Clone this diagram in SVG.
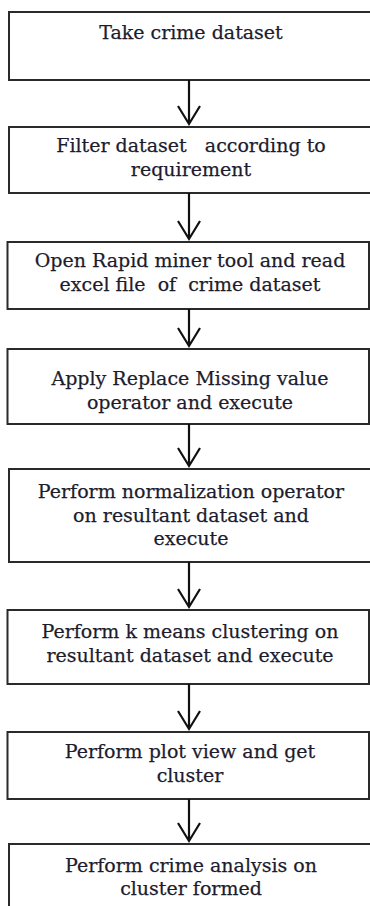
<svg xmlns="http://www.w3.org/2000/svg" width="370" height="906" viewBox="0 0 370 906">
<style>
.box{fill:#fff;stroke:#2a2a2a;stroke-width:2}
.t{font-family:"DejaVu Serif","Liberation Serif",serif;font-size:19px;fill:#1c1c2e;stroke:#1c1c2e;stroke-width:0.25;text-anchor:middle;white-space:pre}
.c{stroke:#111;stroke-width:2.2;fill:none}
</style>
<rect width="370" height="906" fill="#fff"/>
<g id="n1"><rect class="box" x="9" y="12" width="365" height="68"/><text class="t" x="191" y="39">Take crime dataset</text></g>
<g id="n2"><rect class="box" x="9" y="127" width="365" height="66"/><text class="t" x="191" y="152" xml:space="preserve">Filter dataset   according to</text><text class="t" x="191" y="176">requirement</text></g>
<g id="n3"><rect class="box" x="7.5" y="242" width="361.5" height="67"/><text class="t" x="190" y="267">Open Rapid miner tool and read</text><text class="t" x="190" y="291" xml:space="preserve">excel file  of  crime dataset</text></g>
<g id="n4"><rect class="box" x="7.5" y="349" width="361.5" height="75"/><text class="t" x="190" y="385">Apply Replace Missing value</text><text class="t" x="190" y="409">operator and execute</text></g>
<g id="n5"><rect class="box" x="9" y="469" width="365" height="93"/><text class="t" x="191" y="498">Perform normalization operator</text><text class="t" x="191" y="522">on resultant dataset and</text><text class="t" x="191" y="545">execute</text></g>
<g id="n6"><rect class="box" x="7.5" y="610" width="361.5" height="74"/><text class="t" x="190" y="638">Perform k means clustering on</text><text class="t" x="190" y="662">resultant dataset and execute</text></g>
<g id="n7"><rect class="box" x="7.5" y="732" width="361.5" height="67"/><text class="t" x="190" y="758">Perform plot view and get</text><text class="t" x="190" y="782">cluster</text></g>
<g id="n8"><rect class="box" x="9" y="844" width="365" height="80"/><text class="t" x="191" y="872">Perform crime analysis on</text><text class="t" x="191" y="895">cluster formed</text></g>
<g id="connectors">
<path class="c" d="M189 80V124M178 106L189 124L200 106"/>
<path class="c" d="M189 193V239M178 221L189 239L200 221"/>
<path class="c" d="M189 309V346M178 328L189 346L200 328"/>
<path class="c" d="M189 424V466M178 448L189 466L200 448"/>
<path class="c" d="M189 562V607M178 589L189 607L200 589"/>
<path class="c" d="M189 684V729M178 711L189 729L200 711"/>
<path class="c" d="M189 799V841M178 823L189 841L200 823"/>
</g>
</svg>
